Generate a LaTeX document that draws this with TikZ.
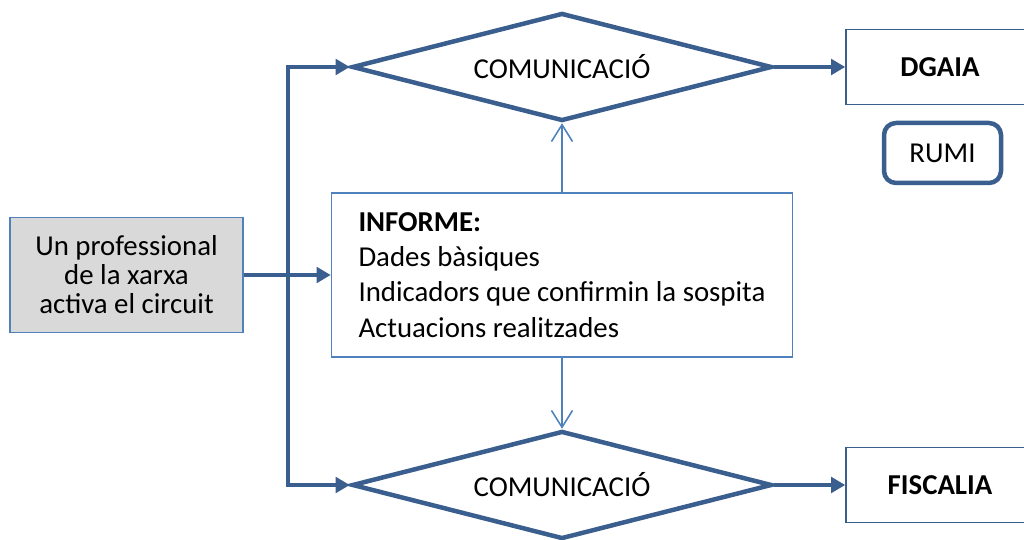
\documentclass[tikz,border=0pt]{standalone}
\usepackage{fontspec}
\setmainfont{Carlito}
\usetikzlibrary{arrows.meta,shapes.geometric}
\definecolor{darkblue}{HTML}{3A5F8F}
\definecolor{lineblue}{HTML}{4F81BD}
\definecolor{boxgray}{HTML}{D9D9D9}

\begin{document}
\begin{tikzpicture}[
        txt/.style={font=\fontsize{20.5}{25}\selectfont},
        flow/.style={line width=3.2pt,draw=darkblue,-{Triangle[length=10pt,width=11pt]}},
        link/.style={line width=1.1pt,draw=lineblue,-{Straight Barb[length=12pt,width=15pt]}},
        comm/.style={shape=diamond,draw=darkblue,line width=3.2pt,aspect=3.9,inner sep=0pt,
            minimum width=10.5cm,minimum height=2.7cm,txt},
        dest/.style={draw=darkblue,line width=1.1pt,minimum width=4.7cm,minimum height=1.875cm,
            font=\fontsize{20.5}{25}\selectfont\bfseries}]
        \useasboundingbox (0,0) rectangle (25.6,13.475);
        \clip (0,0) rectangle (25.6,13.475);
        % boxes
        \node[draw=lineblue,line width=1.1pt,fill=boxgray,minimum width=5.825cm,minimum height=2.875cm,
            align=center,font=\fontsize{20.5}{20.6}\selectfont] (src) at (3.1625,6.6)
            {Un professional\\de la xarxa\\activa el circuit};
        \node[draw=lineblue,line width=1.1pt,txt,minimum width=11.525cm,
            minimum height=4.1cm,align=left] (inf) at (14.05,6.6)
            {\textbf{INFORME:}\\Dades bàsiques\\Indicadors que confirmin la sospita\\Actuacions realitzades};
        \node[comm] (com1) at (14.05,11.8) {COMUNICACIÓ};
        \node[comm] (com2) at (14.05,1.35) {COMUNICACIÓ};
        \node[dest] (dgaia) at (23.5,11.8) {DGAIA};
        \node[dest] (fisc) at (23.5,1.35) {FISCALIA};
        \node[draw=darkblue,line width=3.2pt,rounded corners=0.3cm,minimum width=2.925cm,
            minimum height=1.5cm,txt] (rumi) at (23.5625,9.65) {RUMI};
        \coordinate (trunk) at (7.2,6.6);
        % connectors
        \draw[flow,{Triangle[length=10pt,width=11pt]}-{Triangle[length=10pt,width=11pt]}]
            (com1.west) -| (trunk) |- (com2.west);
        \draw[flow] (src.east) -- (inf.west);
        \draw[flow] (com1.east) -- (dgaia.west);
        \draw[flow] (com2.east) -- (fisc.west);
        \draw[link] (inf.north) -- (com1.south);
        \draw[link] (inf.south) -- (com2.north);
    \end{tikzpicture}
\end{document}
